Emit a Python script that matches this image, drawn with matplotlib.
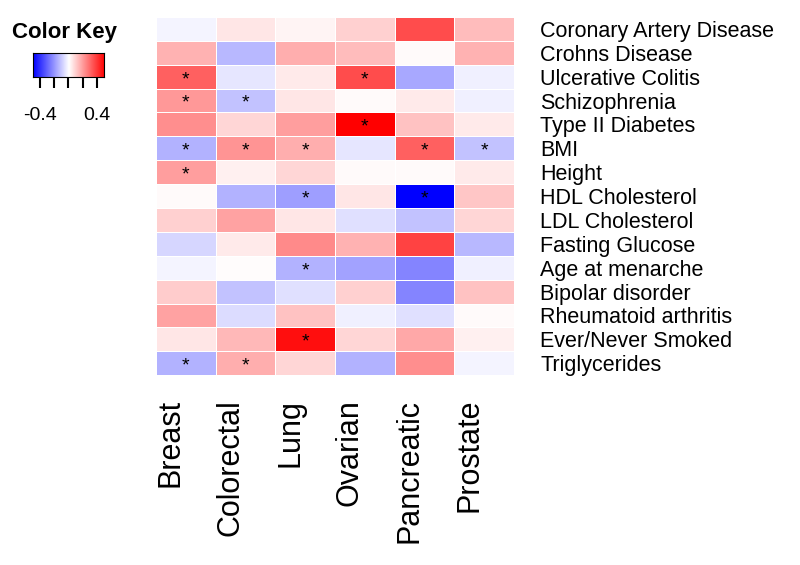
import numpy as np
import matplotlib
matplotlib.use("Agg")
import matplotlib.pyplot as plt
import matplotlib.transforms as mtransforms
from matplotlib.colors import LinearSegmentedColormap

plt.rcParams["font.family"] = ["Liberation Sans", "DejaVu Sans"]

cancers = ["Breast", "Colorectal", "Lung", "Ovarian", "Pancreatic", "Prostate"]
traits = [
    "Coronary Artery Disease", "Crohns Disease", "Ulcerative Colitis",
    "Schizophrenia", "Type II Diabetes", "BMI", "Height", "HDL Cholesterol",
    "LDL Cholesterol", "Fasting Glucose", "Age at menarche", "Bipolar disorder",
    "Rheumatoid arthritis", "Ever/Never Smoked", "Triglycerides",
]

# correlation values, one row per trait, columns follow `cancers`
corr = [
    [-0.02, 0.05, 0.02, 0.09, 0.35, 0.13],
    [0.15, -0.14, 0.16, 0.13, 0.01, 0.15],
    [0.31, -0.05, 0.04, 0.35, -0.17, -0.03],
    [0.20, -0.12, 0.05, 0.01, 0.04, -0.03],
    [0.22, 0.08, 0.19, 0.50, 0.12, 0.04],
    [-0.15, 0.21, 0.16, -0.05, 0.31, -0.12],
    [0.19, 0.03, 0.08, 0.01, 0.01, 0.04],
    [0.01, -0.15, -0.19, 0.05, -0.50, 0.11],
    [0.09, 0.18, 0.05, -0.06, -0.12, 0.08],
    [-0.08, 0.04, 0.23, 0.15, 0.37, -0.14],
    [-0.02, 0.005, -0.15, -0.18, -0.24, -0.03],
    [0.10, -0.12, -0.06, 0.09, -0.24, 0.12],
    [0.18, -0.07, 0.12, -0.03, -0.06, 0.01],
    [0.05, 0.14, 0.47, 0.08, 0.17, 0.03],
    [-0.15, 0.16, 0.08, -0.15, 0.22, -0.02],
]

# significant cells (1 = star)
signif = [
    [0, 0, 0, 0, 0, 0],
    [0, 0, 0, 0, 0, 0],
    [1, 0, 0, 1, 0, 0],
    [1, 1, 0, 0, 0, 0],
    [0, 0, 0, 1, 0, 0],
    [1, 1, 1, 0, 1, 1],
    [1, 0, 0, 0, 0, 0],
    [0, 0, 1, 0, 1, 0],
    [0, 0, 0, 0, 0, 0],
    [0, 0, 0, 0, 0, 0],
    [0, 0, 1, 0, 0, 0],
    [0, 0, 0, 0, 0, 0],
    [0, 0, 0, 0, 0, 0],
    [0, 0, 1, 0, 0, 0],
    [1, 1, 0, 0, 0, 0],
]

cmap = LinearSegmentedColormap.from_list("bwr_key", ["#0000ff", "#ffffff", "#ff0000"])
vmin, vmax = -0.5, 0.5

fig = plt.figure(figsize=(8, 5.65), dpi=100)

ax = fig.add_axes([0.195, 0.336, 0.4475, 0.634])
data = np.array(corr)
ax.pcolormesh(data, cmap=cmap, vmin=vmin, vmax=vmax,
              edgecolor="white", linewidth=0.4)
for i, row in enumerate(signif):
    for j, s in enumerate(row):
        if s:
            ax.text(j + 0.5, i + 0.62, "*", ha="center", va="center",
                    fontsize=14, color="black")
ax.set_xlim(0, len(cancers))
ax.set_ylim(len(traits), 0)
for spine in ax.spines.values():
    spine.set_visible(False)
ax.set_xticks(np.arange(len(cancers)) + 0.5)
ax.set_xticklabels(cancers, rotation=90, fontsize=22, va="top", ha="right")
shift = mtransforms.ScaledTranslation(3 / 100, 0, fig.dpi_scale_trans)
for lab in ax.get_xticklabels():
    lab.set_transform(lab.get_transform() + shift)
ax.set_yticks(np.arange(len(traits)) + 0.5)
ax.set_yticklabels(traits, fontsize=15.5)
ax.yaxis.tick_right()
ax.tick_params(axis="both", length=0)
ax.tick_params(axis="y", pad=19)
ax.tick_params(axis="x", pad=17)

# color key
fig.text(0.015, 0.942, "Color Key", fontsize=16, fontweight="bold", va="center")
kax = fig.add_axes([0.041, 0.864, 0.089, 0.042])
grad = np.linspace(vmin, vmax, 256).reshape(1, -1)
kax.imshow(grad, cmap=cmap, vmin=vmin, vmax=vmax, aspect="auto",
           extent=[vmin, vmax, 0, 1])
kax.set_yticks([])
kax.set_xticks([-0.4, -0.2, 0, 0.2, 0.4])
kax.set_xticklabels(["-0.4", "", "", "", "0.4"], fontsize=14)
kax.tick_params(axis="x", length=8, width=1.5, pad=14)
for spine in kax.spines.values():
    spine.set_linewidth(0.8)

fig.savefig("out.png", dpi=100)
